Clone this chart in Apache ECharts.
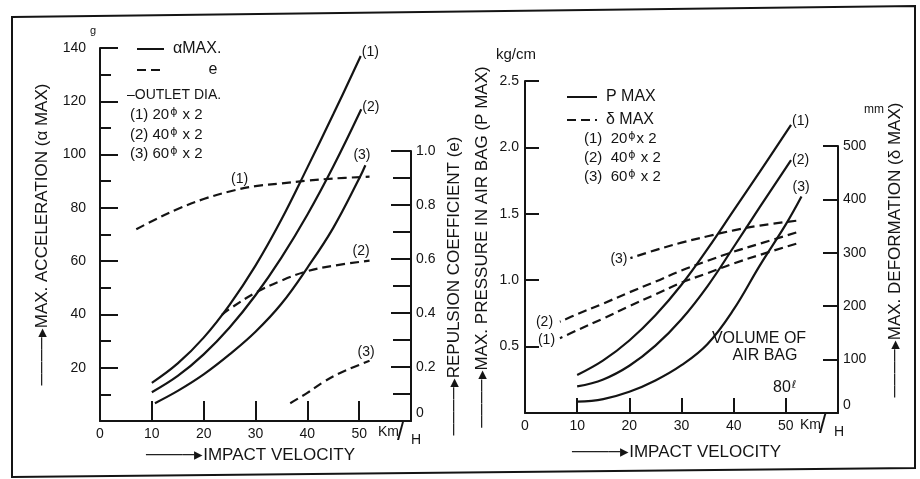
<!DOCTYPE html>
<html><head><meta charset="utf-8">
<script src="https://cdn.jsdelivr.net/npm/echarts@6/dist/echarts.min.js"></script>
<style>html,body{margin:0;padding:0;background:#fff}#c{width:920px;height:479px}</style>
</head><body><div id="c"></div>
<script>
// ---------- DATA ----------
// Left chart: impact velocity (km/h) vs max acceleration (g) and repulsion coefficient e
const alphaX1 = [10, 15, 20, 25, 30, 35, 40, 45, 50.3];
const alpha1  = [14.3, 21.6, 31.3, 43.6, 58.3, 75.6, 95.1, 115.1, 137];
const alphaX2 = [10, 15, 20, 25, 30, 35, 40, 45, 50.4];
const alpha2  = [10.8, 16.9, 25, 35.1, 47.2, 61.3, 77.4, 95.5, 117];
const alphaX3 = [10.6, 15, 20, 25, 30, 35, 40, 45, 50, 51.2];
const alpha3  = [6.7, 11.3, 17.5, 25, 33.5, 44, 57.5, 72.5, 91, 96];

const eX1 = [7, 10, 15, 20, 25, 30, 35, 40, 45, 52];
const e1  = [0.71, 0.74, 0.785, 0.822, 0.85, 0.87, 0.88, 0.89, 0.898, 0.905];
const eX2 = [23.5, 25, 30, 35, 40, 45, 52];
const e2  = [0.393, 0.415, 0.475, 0.52, 0.555, 0.575, 0.594];
const eX3 = [36.7, 40, 43, 46, 49, 52];
const e3  = [0.066, 0.104, 0.143, 0.175, 0.2, 0.223];

// Right chart: impact velocity vs max pressure in air bag (kg/cm) and max deformation (mm)
const pX1 = [10, 15, 20, 25, 30, 35, 40, 45, 51];
const p1  = [0.286, 0.396, 0.546, 0.736, 0.966, 1.236, 1.526, 1.816, 2.17];
const pX2 = [10, 15, 20, 25, 30, 35, 40, 45, 51];
const p2  = [0.2, 0.253, 0.356, 0.507, 0.706, 0.956, 1.25, 1.55, 1.905];
const pX3 = [10, 15, 20, 25, 30, 35, 40, 45, 50, 53];
const p3  = [0.085, 0.105, 0.16, 0.245, 0.36, 0.52, 0.78, 1.11, 1.42, 1.63];

const dX1 = [6.7, 10, 15, 20, 25, 30, 35, 40, 45, 52];
const d1  = [140, 155, 177, 200, 222, 244, 262, 280, 296, 317];
const dX2 = [6.7, 10, 15, 20, 25, 30, 35, 40, 45, 52];
const d2  = [171, 185, 205, 226, 246, 267, 285, 302, 317, 338];
const dX3 = [20.2, 25, 30, 35, 40, 45, 52];
const d3  = [290, 305, 319, 331, 342, 351, 360];

const curveLabels = ['(1)', '(2)', '(3)'];
const outletSizes = ['20', '40', '60'];
const xTicks = [10, 20, 30, 40, 50];

// ---------- STYLE ----------
const FONT = '"Liberation Sans", Arial, Helvetica, sans-serif';
const INK = '#141414';
const LW = 2.2;
const DASH = [9, 5];
const ARROW = '\u2500\u2500\u2500\u2500\u25B8';

function pairs(xs, ys) { return xs.map((x, i) => [x, ys[i]]); }

const chart = echarts.init(document.getElementById('c'), null, { renderer: 'canvas' });

const lbl = { color: INK, fontSize: 14, fontFamily: FONT };
const nameStyle = (extra) => Object.assign({ color: INK, fontSize: 17, fontFamily: FONT }, extra || {});
const zeroRich = { z: { color: INK, fontSize: 14, fontFamily: FONT, padding: [0, 0, 15, 0] } };

function xAxisFor(grid, tickLen, nameGap, show) {
  return {
    type: 'value', gridIndex: grid, min: 0, max: 60, interval: 10, show: show,
    axisLine: { show: true, onZero: false, lineStyle: { color: INK, width: 2 } },
    axisTick: { show: true, inside: true, length: tickLen, customValues: xTicks, lineStyle: { color: INK, width: 2 } },
    axisLabel: Object.assign({ margin: 6, formatter: v => (v >= 60 ? '' : String(v)) }, lbl),
    splitLine: { show: false },
    name: ARROW + 'IMPACT VELOCITY', nameLocation: 'middle', nameGap: nameGap,
    nameTextStyle: nameStyle({ padding: [0, 10, 0, 0] })
  };
}

function line(name, xs, ys, xi, yi, dashed, endText, endOffset, reverse) {
  let data = pairs(xs, ys);
  if (reverse) data = data.slice().reverse();
  const s = {
    type: 'line', name: name, xAxisIndex: xi, yAxisIndex: yi, data: data,
    smooth: 0.4, symbol: 'none', showSymbol: false, animation: false,
    lineStyle: { color: INK, width: LW, type: dashed ? DASH : 'solid' },
    itemStyle: { color: INK }
  };
  if (endText) {
    s.endLabel = { show: true, formatter: endText, color: INK, fontSize: 14, fontFamily: FONT, offset: endOffset || [0, 0], distance: 3 };
  }
  return s;
}

const supRich = {
  s: { fontSize: 11, fontFamily: '"DejaVu Sans", sans-serif', fill: INK, verticalAlign: 'top', padding: [0, 1, 5, 1] },
  n: { fontSize: 15, fontFamily: FONT, fill: INK },
  m: { fontSize: 16, fontFamily: FONT, fill: INK }
};
function txt(x, y, text, size, extra) {
  return { type: 'text', x: x, y: y, silent: true,
    style: Object.assign({ text: text, fill: INK, fontSize: size, fontFamily: FONT, verticalAlign: 'middle', align: 'left' }, extra || {}) };
}
function outlet(x, y, i, gap, tail) {
  return { type: 'text', x: x, y: y, silent: true,
    style: { text: '{n|' + curveLabels[i] + gap + outletSizes[i] + '}{s|\u03D5}{n|' + tail + '}',
      rich: supRich, fill: INK, verticalAlign: 'middle', align: 'left' } };
}

const legendCommon = {
  orient: 'vertical', selectedMode: false, itemHeight: 14,
  itemStyle: { opacity: 0 },
  textStyle: { color: INK, fontSize: 16, fontFamily: FONT, padding: [0, 0, 0, 4] }
};

const option = {
  backgroundColor: '#ffffff',
  animation: false,
  textStyle: { fontFamily: FONT, color: INK },
  grid: [
    { left: 100, right: 509, top: 48, bottom: 58 },
    { left: 100, right: 509, top: 151, bottom: 58 },
    { left: 525, right: 82, top: 81, bottom: 66 },
    { left: 525, right: 82, top: 146, bottom: 66 }
  ],
  xAxis: [
    xAxisFor(0, 20, 26, true),
    xAxisFor(1, 20, 26, false),
    xAxisFor(2, 15, 31, true),
    xAxisFor(3, 15, 31, false)
  ],
  yAxis: [
    { type: 'value', gridIndex: 0, min: 0, max: 140, interval: 20, position: 'left',
      axisLine: { show: true, onZero: false, lineStyle: { color: INK, width: 2 } },
      axisTick: { show: true, inside: true, length: 18, lineStyle: { color: INK, width: 2 } },
      minorTick: { show: true, splitNumber: 2, length: 11, lineStyle: { color: INK, width: 2 } },
      axisLabel: Object.assign({ margin: 14, formatter: v => (v === 0 ? '' : String(v)) }, lbl),
      splitLine: { show: false }, minorSplitLine: { show: false },
      name: ARROW + 'MAX. ACCELERATION (\u03B1 MAX)', nameLocation: 'middle', nameRotate: 90, nameGap: 49,
      nameTextStyle: nameStyle() },
    { type: 'value', gridIndex: 1, min: 0, max: 1, interval: 0.2, position: 'right',
      axisLine: { show: true, onZero: false, lineStyle: { color: INK, width: 2 } },
      axisTick: { show: true, inside: true, length: 20, lineStyle: { color: INK, width: 2 } },
      minorTick: { show: true, splitNumber: 2, length: 18, lineStyle: { color: INK, width: 2 } },
      axisLabel: Object.assign({ margin: 5, rich: zeroRich, formatter: v => (v === 0 ? '{z|0}' : v.toFixed(1)) }, lbl),
      splitLine: { show: false }, minorSplitLine: { show: false },
      name: ARROW + 'REPULSION COEFFICIENT (e)', nameLocation: 'middle', nameRotate: 90, nameGap: 35,
      nameTextStyle: nameStyle() },
    { type: 'value', gridIndex: 2, min: 0, max: 2.5, interval: 0.5, position: 'left',
      axisLine: { show: true, onZero: false, lineStyle: { color: INK, width: 2 } },
      axisTick: { show: true, inside: true, length: 14, lineStyle: { color: INK, width: 2 } },
      axisLabel: Object.assign({ margin: 6, formatter: v => (v === 0 ? '' : v.toFixed(1)) }, lbl),
      splitLine: { show: false },
      name: ARROW + 'MAX. PRESSURE IN AIR BAG (P MAX)', nameLocation: 'middle', nameRotate: 90, nameGap: 34,
      nameTextStyle: nameStyle() },
    { type: 'value', gridIndex: 3, min: 0, max: 500, interval: 100, position: 'right',
      axisLine: { show: true, onZero: false, lineStyle: { color: INK, width: 2 } },
      axisTick: { show: true, inside: true, length: 15, lineStyle: { color: INK, width: 2 } },
      axisLabel: Object.assign({ margin: 5, rich: zeroRich, formatter: v => (v === 0 ? '{z|0}' : String(v)) }, lbl),
      splitLine: { show: false },
      name: ARROW + 'MAX. DEFORMATION (\u03B4 MAX)', nameLocation: 'middle', nameRotate: 90, nameGap: 49,
      nameTextStyle: nameStyle({ padding: [0, 0, 0, 59] }) }
  ],
  legend: [
    Object.assign({}, legendCommon, { data: ['\u03B1MAX.', 'e'], left: 131, top: 36, itemWidth: 27, itemGap: 5,
      formatter: n => (n === 'e' ? '        e' : n) }),
    Object.assign({}, legendCommon, { data: ['P MAX', '\u03B4 MAX'], left: 561, top: 84, itemWidth: 30, itemGap: 7 })
  ],
  series: [
    line('\u03B1MAX.', alphaX1, alpha1, 0, 0, false, curveLabels[0], [-2, -4]),
    line('\u03B1MAX.', alphaX2, alpha2, 0, 0, false, curveLabels[1], [-2, -2]),
    line('\u03B1MAX.', alphaX3, alpha3, 0, 0, false, curveLabels[2], [-15, -10]),
    Object.assign(line('e', eX1, e1, 1, 1, true), {
      markPoint: { symbol: 'circle', symbolSize: 1, itemStyle: { color: 'rgba(0,0,0,0)' }, silent: true,
        data: [{ coord: [eX1[4], e1[4]], label: { show: true, position: 'top', distance: 5, offset: [10, 0], formatter: curveLabels[0], color: INK, fontSize: 14, fontFamily: FONT } }] }
    }),
    line('e', eX2, e2, 1, 1, true, curveLabels[1], [-20, -9]),
    line('e', eX3, e3, 1, 1, true, curveLabels[2], [-15, -9]),
    line('P MAX', pX1, p1, 2, 2, false, curveLabels[0], [-2, -4]),
    line('P MAX', pX2, p2, 2, 2, false, curveLabels[1], [-2, 0]),
    line('P MAX', pX3, p3, 2, 2, false, curveLabels[2], [-12, -9]),
    line('\u03B4 MAX', dX1, d1, 3, 3, true, curveLabels[0], [-25, 2], true),
    line('\u03B4 MAX', dX2, d2, 3, 3, true, curveLabels[1], [-27, 0], true),
    line('\u03B4 MAX', dX3, d3, 3, 3, true, curveLabels[2], [-23, 1], true)
  ],
  graphic: [
    { type: 'polygon', silent: true, shape: { points: [[12, 17], [915, 6], [915, 468], [12, 477]] },
      style: { fill: 'none', stroke: INK, lineWidth: 2 } },
    txt(90, 31, 'g', 11),
    txt(496, 55, 'kg/cm', 15),
    txt(864, 110, 'mm', 12),
    txt(127, 95, '\u2013OUTLET DIA.', 14),
    outlet(130, 115, 0, ' ', ' x 2'),
    outlet(130, 135, 1, ' ', ' x 2'),
    outlet(130, 154, 2, ' ', ' x 2'),
    outlet(584, 139, 0, '  ', 'x 2'),
    outlet(584, 158, 1, '  ', ' x 2'),
    outlet(584, 177, 2, '  ', ' x 2'),
    txt(378, 432, 'Km', 14),
    txt(397, 433, '/', 26),
    txt(411, 440, 'H', 14),
    txt(800, 425, 'Km', 14),
    txt(819, 426, '/', 26),
    txt(834, 432, 'H', 14),
    txt(759, 339, 'VOLUME OF', 16, { align: 'center' }),
    txt(765, 356, 'AIR BAG', 16, { align: 'center' }),
    { type: 'text', x: 773, y: 388, silent: true,
      style: { text: '{m|80}{s|\u2113}', rich: supRich, fill: INK, verticalAlign: 'middle', align: 'left' } }
  ]
};
chart.setOption(option);
</script>
</body></html>
